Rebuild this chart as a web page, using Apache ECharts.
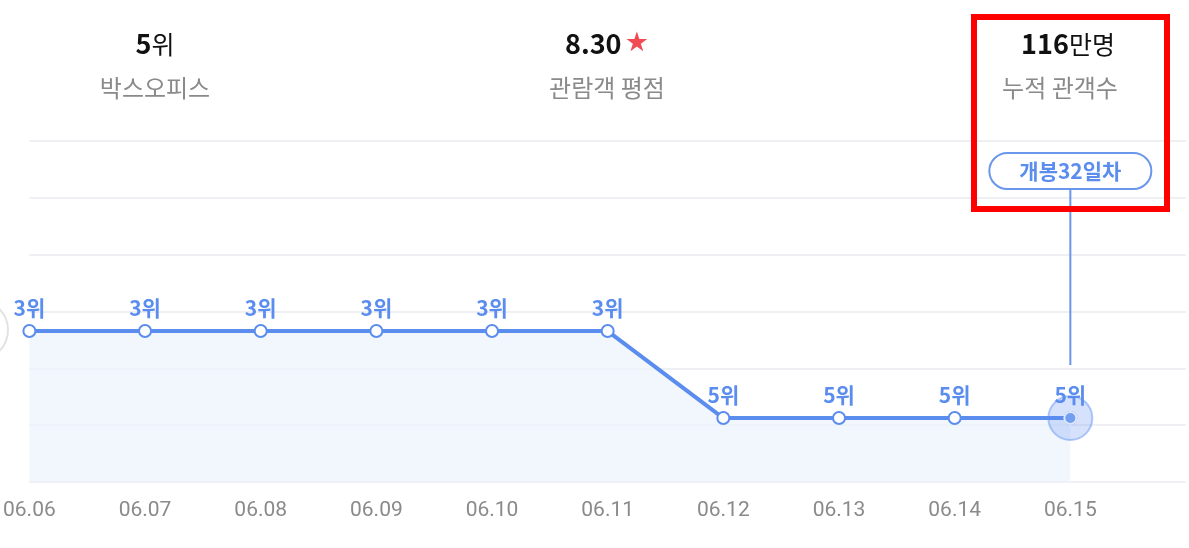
<!DOCTYPE html><html><head><meta charset="utf-8"><script src="https://cdn.jsdelivr.net/npm/echarts@6/dist/echarts.min.js"></script>
<style>html,body{margin:0;background:#fff}#c{width:1189px;height:548px}</style></head><body><div id="c"></div><script>
const categories=['06.06','06.07','06.08','06.09','06.10','06.11','06.12','06.13','06.14','06.15',''];
const ranks=[3,3,3,3,3,3,5,5,5,5,'-'];
const lastIndex=9;
const F='"Noto Sans CJK KR","Noto Sans",sans-serif';
const blue='#5b8def';
const chart=echarts.init(document.getElementById('c'));
chart.setOption({
 animation:false,
 grid:{left:-35,right:-10,top:141,bottom:66},
 xAxis:{type:'category',data:categories,boundaryGap:false,axisLine:{show:false},axisTick:{show:false},
  axisLabel:{color:'#8a8a8a',fontSize:21,fontFamily:'Roboto,"Noto Sans",sans-serif',margin:18}},
 yAxis:[{type:'value',inverse:true,min:-1.37,max:6.47,show:false,splitLine:{show:false}},
  {type:'value',min:0,max:6,interval:1,axisLabel:{show:false},axisLine:{show:false},axisTick:{show:false},
   splitLine:{lineStyle:{color:'#eef0f3',width:2}}}],
 series:[{type:'line',data:ranks,yAxisIndex:0,symbol:'circle',symbolSize:12,showAllSymbol:true,
  lineStyle:{color:blue,width:4},itemStyle:{color:'#fff',borderColor:blue,borderWidth:2},
  areaStyle:{color:'#ecf3fd',origin:'end'},
  label:{show:true,position:'top',distance:6,formatter:p=>p.value+'위',color:blue,fontSize:21,fontWeight:'bold',fontFamily:F},
  markPoint:{symbol:'circle',symbolSize:44,silent:true,label:{show:false},
   itemStyle:{color:'rgba(91,141,239,0.25)',borderColor:'rgba(91,141,239,0.45)',borderWidth:2},
   data:[{coord:[lastIndex,ranks[lastIndex]]}]}},
  {type:'scatter',data:[[lastIndex,ranks[lastIndex]]],symbolSize:12,itemStyle:{color:blue,borderColor:'#fff',borderWidth:2},z:5}]
});
const p=chart.convertToPixel({xAxisIndex:0,yAxisIndex:0},[lastIndex,ranks[lastIndex]]);
const px=p[0];
chart.setOption({graphic:[
 {type:'circle',shape:{cx:-22,cy:330,r:30},style:{fill:'#fff',stroke:'#e2e2e2',lineWidth:2},z:10},
 {type:'text',x:155,y:44,style:{text:'{b|5}{n|위}',align:'center',verticalAlign:'middle',rich:{b:{fontSize:27,fontWeight:'bold',fill:'#111',fontFamily:F},n:{fontSize:25,fill:'#111',fontFamily:F}}}},
 {type:'text',x:155,y:88,style:{text:'박스오피스',align:'center',verticalAlign:'middle',fontSize:24,fill:'#8a8a8a',fontFamily:F}},
 {type:'text',x:607,y:44,style:{text:'{b|8.30} {s|★}',align:'center',verticalAlign:'middle',rich:{b:{fontSize:27,fontWeight:'bold',fill:'#111',fontFamily:F},s:{fontSize:27,fill:'#f04b55',fontFamily:'DejaVu Sans'}}}},
 {type:'text',x:607,y:88,style:{text:'관람객 평점',align:'center',verticalAlign:'middle',fontSize:24,fill:'#8a8a8a',fontFamily:F}},
 {type:'text',x:1068,y:44,style:{text:'{b|116}{n|만명}',align:'center',verticalAlign:'middle',rich:{b:{fontSize:27,fontWeight:'bold',fill:'#111',fontFamily:F},n:{fontSize:25,fill:'#111',fontFamily:F}}}},
 {type:'text',x:1060,y:88,style:{text:'누적 관객수',align:'center',verticalAlign:'middle',fontSize:24,fill:'#8a8a8a',fontFamily:F}},
 {type:'line',shape:{x1:px,y1:189,x2:px,y2:365},style:{stroke:'#6a96ec',lineWidth:2}},
 {type:'rect',shape:{x:px-81,y:153,width:162,height:36,r:18},style:{fill:'#fff',stroke:'#6a96ec',lineWidth:2}},
 {type:'text',x:px,y:171,style:{text:'개봉32일차',align:'center',verticalAlign:'middle',fontSize:21,fontWeight:'bold',fill:blue,fontFamily:F}},
 {type:'rect',shape:{x:974,y:17,width:193,height:192},style:{fill:'none',stroke:'#ff0000',lineWidth:6},z:20}
]});
</script></body></html>
